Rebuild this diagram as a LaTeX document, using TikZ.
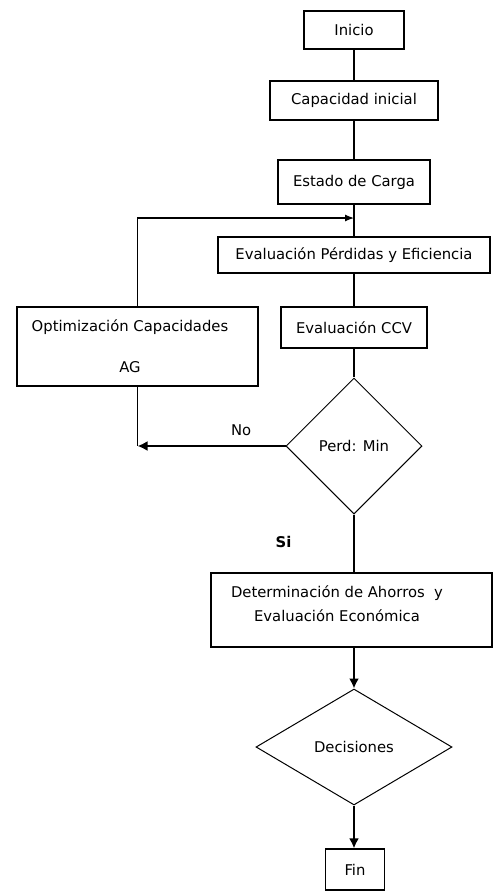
\documentclass[tikz,border=0pt]{standalone}
\usepackage{fontspec}
\setmainfont{DejaVu Sans}
\usetikzlibrary{shapes.geometric,arrows.meta}
\tikzset{
  box/.style={draw, line width=1.2pt, inner sep=0pt, align=center,
    font=\fontsize{14.8}{17}\selectfont},
  boxtext/.style={inner sep=0pt, align=center, font=\fontsize{14.8}{24}\selectfont},
  decision/.style={draw, diamond, line width=1pt, inner sep=0pt, aspect=1,
    font=\fontsize{14.8}{17}\selectfont},
  link/.style={line width=1.2pt},
  strong/.style={line width=2.8pt, -{Latex[length=10pt,width=10pt]}},
}
\begin{document}
\begin{tikzpicture}[x=1pt,y=-1pt]
        \useasboundingbox (0,0) rectangle (493,892);
        %% main column
        \node[box, minimum width=100, minimum height=38] (inicio) at (354,30) {Inicio};
        \node[box, minimum width=168, minimum height=39] (capacidad) at (354,100.5) {Capacidad inicial};
        \node[box, minimum width=152, minimum height=44] (estado) at (354,182) {Estado de Carga};
        \node[box, minimum width=272, minimum height=36] (perdidas) at (354,255) {Evaluación Pérdidas y Eficiencia};
        \node[box, minimum width=146, minimum height=41] (ccv) at (354,327.5) {Evaluación CCV};
        \node[decision, minimum width=136, minimum height=136] (perd) at (354,446) {Perd: Min};
        \node[box, minimum width=281, minimum height=74] (ahorros) at (351.5,610) {};
        \node[boxtext] (ahorrostxt) at (337,604) {Determinación de Ahorros~~y\\Evaluación Económica};
        \node[decision, minimum width=196, minimum height=116] (decis) at (354,747) {Decisiones};
        \node[box, minimum width=59, minimum height=41] (fin) at (355,869.5) {Fin};
        %% side loop
        \node[box, minimum width=241, minimum height=79] (optim) at (137.5,346.5) {};
        \node[boxtext] (optimtxt) at (130,346.5) {Optimización Capacidades\\[17pt]AG};
        \coordinate (merge) at (354,218);
        \coordinate (back) at (137.5,446);
        %% connectors
        \draw[link] (inicio) -- (capacidad);
        \draw[link] (capacidad) -- (estado);
        \draw[link] (estado) -- (perdidas);
        \draw[link] (perdidas) -- (ccv);
        \draw[link] (ccv) -- (perd);
        \draw[link,-{Latex[length=9pt,width=7pt]}] (optim.north) |- (merge);
        \draw[link] (optim.south) -- (back);
        \draw[strong] (perd.west) -- (back)
          node[pos=0.3, above=9pt, inner sep=0pt, font=\fontsize{14.8}{17}\selectfont] (no) {No};
        \draw[link] (perd.south) -- (perd.south |- ahorros.north)
          node[pos=0.47, left=62pt, inner sep=0pt, font=\fontsize{14.8}{17}\selectfont\bfseries] (si) {Si};
        \draw[strong] (ahorros.south -| decis.north) -- (decis.north);
        \draw[strong] (decis.south) -- (decis.south |- fin.north);
    \end{tikzpicture}
\end{document}
